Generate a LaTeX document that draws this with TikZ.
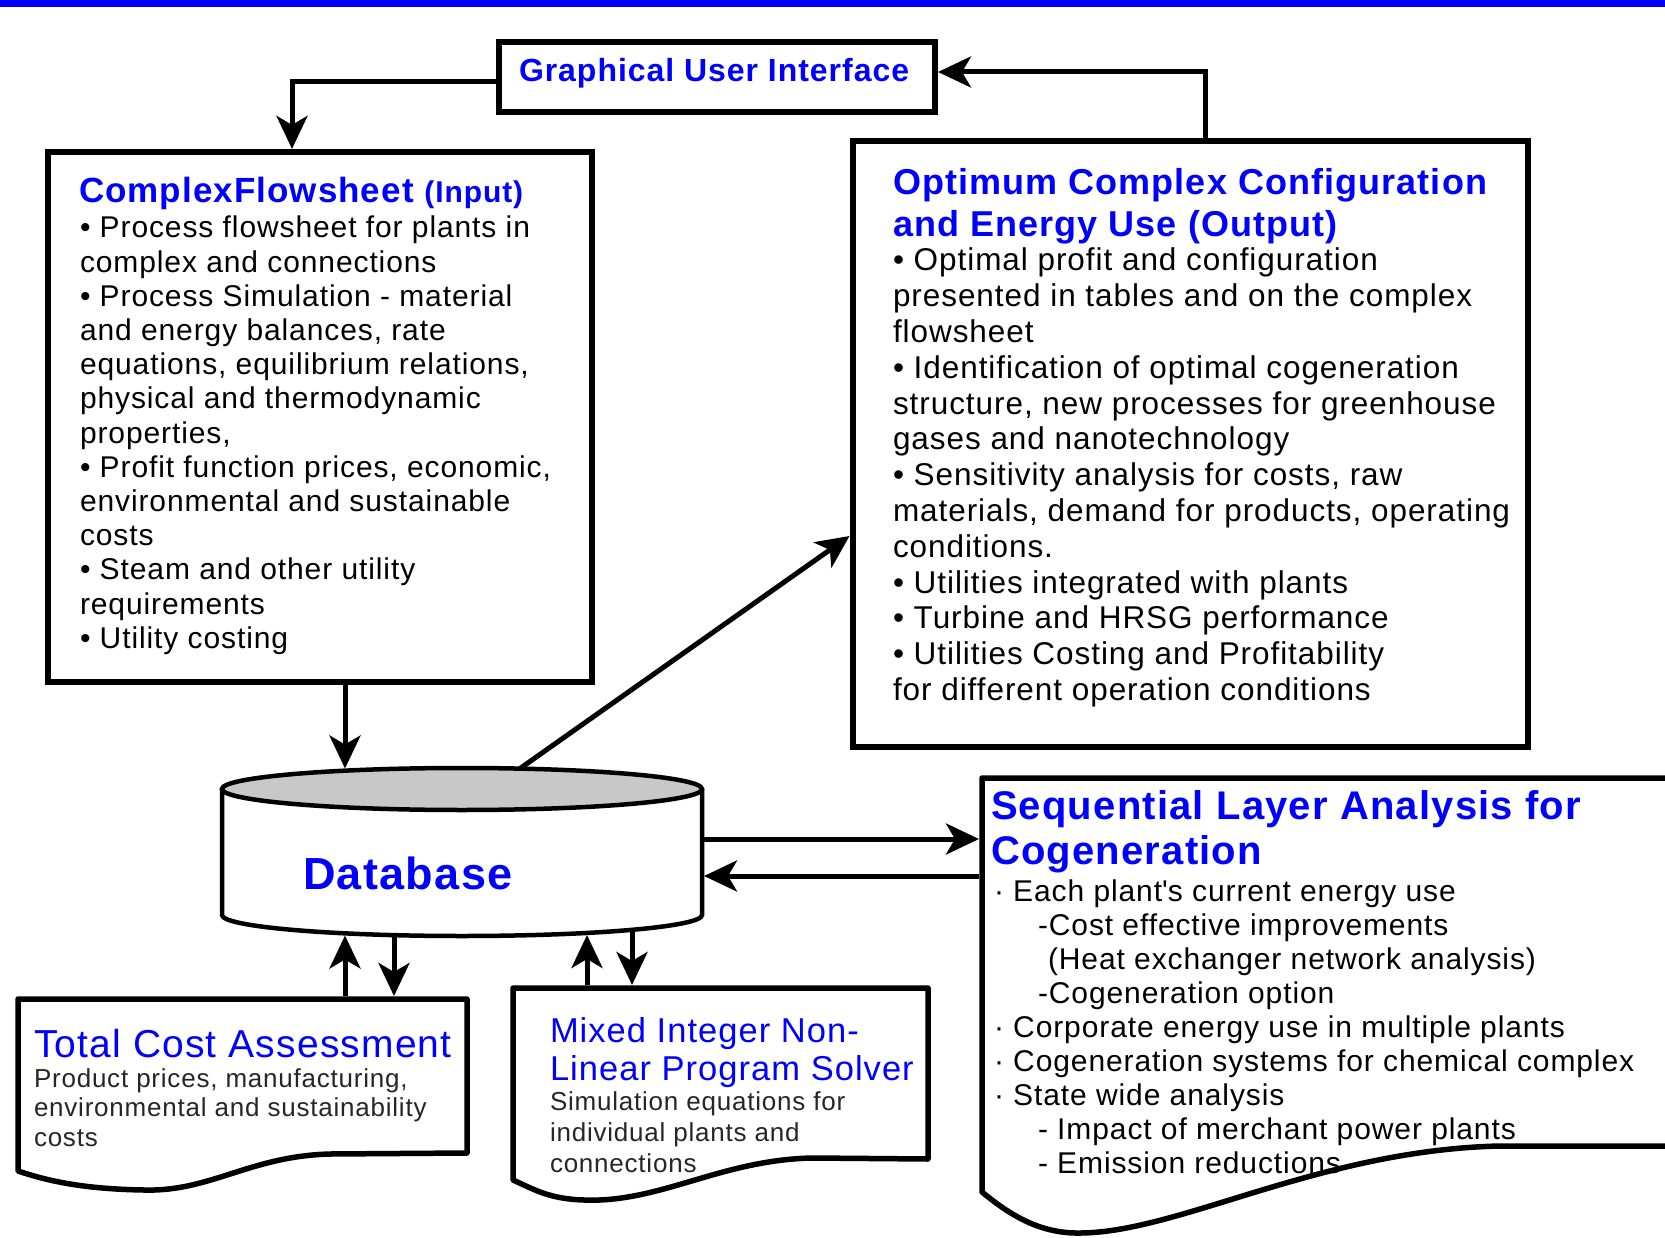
\documentclass[tikz,border=0pt]{standalone}
\usepackage{fontspec}
\setmainfont{Liberation Sans}[LetterSpace=3.0]
\usetikzlibrary{arrows.meta}
\definecolor{tblue}{RGB}{0,0,255}
\definecolor{dbgray}{RGB}{200,200,200}
\newcommand{\fsz}[2]{\fontsize{#1}{#2}\selectfont}
\begin{document}
\begin{tikzpicture}[x=1pt,y=-1pt,
  box/.style={draw=black, line width=6pt, fill=white, inner sep=0pt},
  arr/.style={line width=5pt, -{Stealth[length=33pt,width=31pt,inset=9pt]}},
  docline/.style={line width=5.5pt, fill=white, line join=round},
  dbline/.style={line width=4.5pt},
  txt/.style={anchor=base west, inner sep=0pt, outer sep=0pt},
  btxt/.style={txt, text=tblue},
  gtxt/.style={txt, text=black!85},
]
\useasboundingbox[fill=white] (0,0) rectangle (1665,1238);
% top bar
\fill[tblue] (0,0) rectangle (1665,7);

% boxes
\node[box, minimum width=436pt, minimum height=70pt] (gui) at (717,77) {};
\node[box, minimum width=544pt, minimum height=530pt] (lb) at (319.6,416.9) {};
\node[box, minimum width=675.5pt, minimum height=606pt] (rb) at (1190.25,444) {};

% database cylinder
\fill[white] (222,789) -- (222,915) arc[start angle=180,end angle=360,x radius=240pt,y radius=21pt] -- (702,789) -- cycle;
\draw[dbline] (222,789) -- (222,915) arc[start angle=180,end angle=360,x radius=240pt,y radius=21pt] -- (702,789);
\draw[dbline, fill=dbgray] (462,789) ellipse [x radius=240pt, y radius=21pt];
\node[btxt] (db) at (303,889) {\bfseries\fsz{45}{50}Database};

% document shapes
\draw[docline] (18,999) -- (467,999) -- (467,1153) -- (330,1154)
  .. controls (250,1156) and (210,1192) .. (144,1190)
  .. controls (80,1189) and (45,1180) .. (18,1171) -- cycle;
\draw[docline] (513,988) -- (928,988) -- (928,1159) -- (812,1158)
  .. controls (720,1160) and (660,1203) .. (584,1200)
  .. controls (550,1199) and (535,1190) .. (513,1180) -- cycle;
\draw[docline] (1675,778) -- (982,778) -- (982,1192)
  .. controls (1010,1215) and (1040,1234) .. (1081,1233)
  .. controls (1180,1232) and (1320,1150) .. (1500,1146) -- (1675,1146);

% anchor coordinates
\coordinate (dbT1) at (345,768.5);
\coordinate (dbT2) at (520,768.5);
\coordinate (dbR1) at (704,839);
\coordinate (dbR2) at (704,876);
\coordinate (seqL1) at (979,839);
\coordinate (seqL2) at (979,876);
\coordinate (dbB1) at (345,935.5);
\coordinate (dbB2) at (394,937);
\coordinate (dbB3) at (587,935);
\coordinate (dbB4) at (632,932);
\coordinate (tcaT1) at (345,996);
\coordinate (tcaT2) at (394,996);
\coordinate (minT1) at (587,985);
\coordinate (minT2) at (632,985);

% connectors
\draw[arr] ([yshift=-5pt]gui.west) -| ([xshift=-27.6pt]lb.north);
\draw[arr] ([xshift=15pt]rb.north) |- ([yshift=5pt]gui.east);
\draw[arr] ([xshift=25.4pt]lb.south) -- (dbT1);
\draw[arr] (dbT2) -- ([yshift=-92pt]rb.west);
\draw[arr] (dbR1) -- (seqL1);
\draw[arr] (seqL2) -- (dbR2);
\draw[arr] (tcaT1) -- (dbB1);
\draw[arr] (dbB2) -- (tcaT2);
\draw[arr] (minT1) -- (dbB3);
\draw[arr] (dbB4) -- (minT2);

% texts
\node[btxt] (guit) at (519,82) {\bfseries\fsz{32}{36}Graphical User Interface};

\node[btxt] (lbt) at (79,203) {\bfseries\fsz{35}{40}ComplexFlowsheet \fsz{30}{40}(Input)};
\node[txt] (lbb) at (80,238) {\parbox[t]{520pt}{\raggedright\fsz{30}{34.2}%
• Process flowsheet for plants in\\
complex and connections\\
• Process Simulation - material\\
and energy balances, rate\\
equations, equilibrium relations,\\
physical and thermodynamic\\
properties,\\
• Profit function prices, economic,\\
environmental and sustainable\\
costs\\
• Steam and other utility\\
requirements\\
• Utility costing}};

\node[btxt] (rbt) at (893,195) {\parbox[t]{640pt}{\raggedright\bfseries\fsz{36}{41.4}%
Optimum Complex Configuration\\
and Energy Use (Output)}};
\node[txt] (rbb) at (893,271) {\parbox[t]{640pt}{\raggedright\fsz{31.5}{35.8}%
• Optimal profit and configuration\\
presented in tables and on the complex\\
flowsheet\\
• Identification of optimal cogeneration\\
structure, new processes for greenhouse\\
gases and nanotechnology\\
• Sensitivity analysis for costs, raw\\
materials, demand for products, operating\\
conditions.\\
• Utilities integrated with plants\\
• Turbine and HRSG performance\\
• Utilities Costing and Profitability\\
for different operation conditions}};

\node[btxt] (sqt) at (991,819) {\parbox[t]{680pt}{\raggedright\bfseries\fsz{40}{45}%
Sequential Layer Analysis for\\
Cogeneration}};
\node[txt] (sqb) at (994,901) {\parbox[t]{680pt}{\raggedright\fsz{30}{34}%
· Each plant\textquotesingle s current energy use\\
\hspace*{44pt}-Cost effective improvements\\
\hspace*{54pt}(Heat exchanger network analysis)\\
\hspace*{44pt}-Cogeneration option\\
· Corporate energy use in multiple plants\\
· Cogeneration systems for chemical complex\\
· State wide analysis\\
\hspace*{44pt}- Impact of merchant power plants\\
\hspace*{44pt}- Emission reductions}};

\node[btxt] (tcat) at (34,1057) {\fsz{39}{44}Total Cost Assessment};
\node[gtxt] (tcab) at (34,1087) {\parbox[t]{440pt}{\raggedright\fsz{26}{29.5}%
Product prices, manufacturing,\\
environmental and sustainability\\
costs}};

\node[btxt] (mint) at (550,1042) {\parbox[t]{400pt}{\raggedright\fsz{34.5}{38}%
Mixed Integer Non-\\
Linear Program Solver}};
\node[gtxt] (minb) at (550,1110) {\parbox[t]{400pt}{\raggedright\fsz{26}{31}%
Simulation equations for\\
individual plants and\\
connections}};
\end{tikzpicture}
\end{document}
